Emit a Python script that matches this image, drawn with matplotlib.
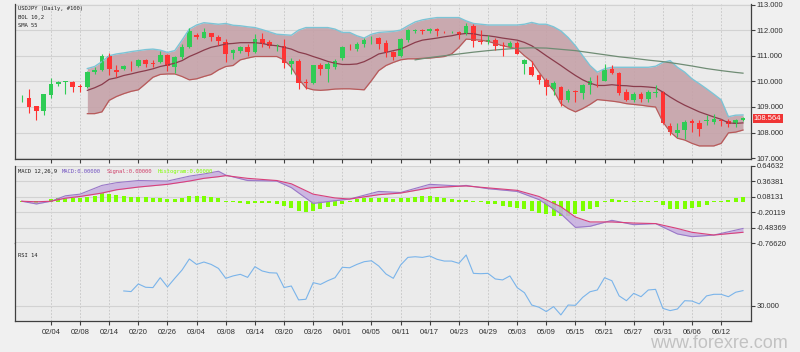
import numpy as np
import pandas as pd
import matplotlib
matplotlib.use("Agg")
import matplotlib.pyplot as plt
import matplotlib.transforms as mtransforms

# 100 daily bars, USDJPY
dates = pd.bdate_range("2019-01-29", "2019-06-17")

opens = [109.30, 109.36, 109.03, 108.85, 109.45, 109.88, 109.97, 109.97, 109.81, 109.78,
         110.36, 110.45, 111.00, 110.45, 110.49, 110.58, 110.59, 110.84, 110.70, 110.74,
         111.04, 110.55, 110.96, 111.35, 111.82, 111.71, 111.87, 111.75, 111.55, 111.11,
         111.17, 111.35, 111.13, 111.65, 111.52, 111.38, 111.39, 110.66, 110.81, 109.98,
         109.93, 110.62, 110.49, 110.58, 110.91, 111.36, 111.26, 111.46, 111.60, 111.69,
         111.48, 111.13, 111.00, 111.61, 111.95, 112.00, 111.97, 112.04, 111.94, 111.92,
         111.91, 111.84, 112.17, 111.59, 111.52, 111.62, 111.43, 111.35, 111.50, 110.68,
         110.58, 110.23, 110.06, 109.71, 109.78, 109.29, 109.63, 109.54, 109.84, 110.07,
         110.03, 110.49, 110.32, 109.58, 109.26, 109.49, 109.33, 109.56, 109.58, 108.25,
         107.99, 108.10, 108.45, 108.38, 108.46, 108.40, 108.50, 108.46, 108.33, 108.48]
highs = [109.45, 109.71, 109.05, 109.52, 110.14, 110.02, 110.02, 110.02, 109.90, 110.42,
         110.55, 111.06, 111.10, 110.62, 110.62, 110.78, 110.87, 110.88, 110.84, 111.20,
         111.06, 111.00, 111.46, 112.10, 111.87, 112.10, 111.90, 111.80, 111.65, 111.28,
         111.40, 111.45, 111.84, 111.87, 111.60, 111.47, 111.65, 110.90, 110.87, 110.10,
         110.64, 110.70, 110.75, 110.87, 111.40, 111.45, 111.55, 111.68, 111.78, 111.72,
         111.60, 111.20, 111.68, 112.05, 112.05, 112.05, 112.08, 112.08, 111.95, 111.97,
         111.97, 112.29, 112.25, 112.00, 111.80, 111.68, 111.55, 111.57, 111.57, 110.88,
         110.81, 110.28, 110.12, 110.00, 109.83, 109.70, 109.68, 109.90, 110.16, 110.23,
         110.68, 110.62, 110.38, 109.70, 109.58, 109.58, 109.65, 109.87, 109.62, 108.36,
         108.36, 108.48, 108.55, 108.50, 108.70, 108.74, 108.55, 108.52, 108.55, 108.60]
lows = [109.20, 108.77, 108.48, 108.70, 109.36, 109.80, 109.50, 109.58, 109.60, 109.75,
        110.30, 110.40, 110.23, 110.19, 110.45, 110.42, 110.55, 110.55, 110.55, 110.70,
        110.40, 110.32, 110.87, 111.30, 111.65, 111.68, 111.59, 111.43, 110.74, 110.87,
        111.10, 110.98, 111.10, 111.33, 111.30, 111.20, 110.53, 110.30, 109.71, 109.70,
        109.90, 110.23, 109.97, 110.50, 110.85, 111.22, 111.20, 111.33, 111.45, 111.26,
        110.94, 110.84, 110.96, 111.55, 111.90, 111.86, 111.90, 111.78, 111.90, 111.87,
        111.65, 111.80, 111.35, 111.46, 111.45, 111.22, 111.00, 111.30, 111.05, 110.27,
        110.20, 109.88, 109.45, 109.45, 109.03, 109.20, 109.20, 109.33, 109.49, 109.78,
        110.00, 110.28, 109.45, 109.24, 109.20, 109.20, 109.20, 109.40, 108.33, 107.90,
        107.84, 107.77, 108.03, 107.86, 108.30, 108.35, 108.25, 108.22, 108.20, 108.45]
closes = [109.33, 109.00, 108.85, 109.49, 109.88, 109.97, 110.00, 109.78, 109.79, 110.36,
          110.46, 111.00, 110.49, 110.36, 110.59, 110.56, 110.84, 110.66, 110.66, 111.04,
          110.59, 110.96, 111.35, 111.95, 111.72, 111.91, 111.75, 111.56, 111.07, 111.22,
          111.33, 111.13, 111.65, 111.46, 111.40, 111.41, 110.71, 110.81, 109.93, 109.94,
          110.62, 110.49, 110.66, 110.81, 111.33, 111.33, 111.47, 111.62, 111.63, 111.46,
          111.13, 110.96, 111.65, 112.00, 112.00, 111.97, 112.04, 111.95, 111.92, 111.94,
          111.82, 112.17, 111.56, 111.52, 111.61, 111.39, 111.40, 111.50, 111.07, 110.85,
          110.23, 110.06, 109.78, 109.93, 109.26, 109.61, 109.60, 109.84, 110.00, 110.05,
          110.45, 110.32, 109.54, 109.26, 109.52, 109.33, 109.58, 109.60, 108.36, 108.03,
          108.12, 108.42, 108.36, 108.16, 108.49, 108.53, 108.47, 108.33, 108.51, 108.564]

# Bollinger (10, 2), from bar 9 on
bol_upper = [110.50, 110.58, 110.77, 111.00, 111.07, 111.11, 111.16, 111.20, 111.24, 111.26,
             111.22, 111.13, 111.20, 111.61, 112.04, 112.20, 112.29, 112.26, 112.23, 112.26,
             112.19, 112.17, 112.13, 112.10, 112.02, 111.93, 111.84, 111.82, 111.80, 112.00,
             112.10, 112.10, 112.10, 112.10, 112.04, 111.91, 111.91, 111.78, 111.69, 111.84,
             111.91, 111.93, 111.95, 112.00, 112.17, 112.32, 112.40, 112.45, 112.49, 112.49,
             112.49, 112.49, 112.36, 112.26, 112.23, 112.20, 112.20, 112.20, 112.20, 112.20,
             112.23, 112.30, 112.23, 112.23, 112.13, 111.97, 111.71, 111.39, 111.00, 110.62,
             110.36, 110.49, 110.55, 110.55, 110.55, 110.55, 110.55, 110.55, 110.59, 110.74,
             110.81, 110.55, 110.36, 110.10, 109.91, 109.71, 109.50, 109.28, 108.62, 108.68,
             108.69]
bol_mid = [109.65, 109.75, 109.88, 110.08, 110.14, 110.23, 110.29, 110.36, 110.42, 110.49,
           110.58, 110.64, 110.71, 110.81, 110.97, 111.09, 111.22, 111.33, 111.39, 111.46,
           111.48, 111.51, 111.51, 111.51, 111.48, 111.42, 111.39, 111.33, 111.26, 111.14,
           111.07, 110.97, 110.88, 110.78, 110.71, 110.66, 110.66, 110.68, 110.77, 110.91,
           111.07, 111.13, 111.20, 111.26, 111.39, 111.52, 111.61, 111.65, 111.69, 111.74,
           111.78, 111.84, 111.87, 111.86, 111.80, 111.78, 111.74, 111.69, 111.65, 111.61,
           111.52, 111.39, 111.20, 111.00, 110.81, 110.62, 110.42, 110.23, 110.06, 109.93,
           109.84, 109.84, 109.87, 109.84, 109.83, 109.80, 109.80, 109.78, 109.75, 109.58,
           109.39, 109.22, 109.07, 108.94, 108.81, 108.71, 108.61, 108.52, 108.38, 108.36,
           108.38]
bol_lower = [108.74, 108.74, 108.81, 109.26, 109.41, 109.52, 109.61, 109.67, 109.91, 110.16,
             110.27, 110.29, 110.29, 110.19, 110.06, 110.10, 110.19, 110.27, 110.45, 110.58,
             110.62, 110.84, 110.91, 110.97, 110.97, 110.97, 110.97, 110.84, 110.55, 110.10,
             109.75, 109.67, 109.65, 109.67, 109.70, 109.71, 109.71, 109.69, 109.67, 110.03,
             110.42, 110.62, 110.74, 110.84, 110.88, 110.88, 110.90, 110.91, 110.94, 110.97,
             111.07, 111.33, 111.65, 111.63, 111.61, 111.56, 111.48, 111.39, 111.33, 111.26,
             111.00, 110.78, 110.36, 109.97, 109.65, 109.13, 108.94, 108.81, 108.94, 109.10,
             109.29, 109.26, 109.23, 109.19, 109.13, 109.10, 109.07, 109.03, 109.00, 108.42,
             108.03, 107.78, 107.71, 107.58, 107.48, 107.48, 107.48, 107.58, 107.99, 108.02,
             108.10]

# SMA 55
sma_bar = [54, 56, 58, 60, 62, 64, 66, 68, 70, 72, 74, 76, 78, 80, 82, 84, 86, 88, 90, 92, 94, 96, 98, 99]
sma_val = [110.84, 110.93, 111.00, 111.07, 111.14, 111.20, 111.25, 111.29, 111.31, 111.30, 111.25, 111.20,
           111.12, 111.04, 110.96, 110.90, 110.83, 110.77, 110.69, 110.60, 110.50, 110.42, 110.35, 110.32]

# MACD 12,26,9
macd_bar = [0, 2, 4, 6, 8, 11, 13, 16, 20, 23, 25, 27, 28, 31, 35, 37, 40, 43, 45, 49, 52, 56, 60,
            61, 64, 68, 71, 74, 76, 78, 81, 84, 87, 90, 92, 95, 99]
macd_val = [0.0, -0.05, 0.0, 0.10, 0.13, 0.29, 0.34, 0.38, 0.37, 0.46, 0.50, 0.55, 0.48, 0.38, 0.37,
            0.25, -0.04, 0.01, 0.04, 0.18, 0.16, 0.31, 0.28, 0.29, 0.23, 0.18, 0.03, -0.23, -0.48,
            -0.46, -0.35, -0.43, -0.41, -0.60, -0.65, -0.62, -0.50]
signal_val = [0.0, -0.01, 0.0, 0.056, 0.087, 0.15, 0.21, 0.26, 0.31, 0.37, 0.42, 0.45, 0.47, 0.42, 0.38,
              0.32, 0.13, 0.06, 0.04, 0.12, 0.15, 0.245, 0.275, 0.28, 0.245, 0.20, 0.087, -0.10, -0.29,
              -0.38, -0.38, -0.40, -0.41, -0.50, -0.57, -0.62, -0.57]
hist_val = [0.0, -0.02, -0.03, -0.01, 0.02, 0.04, 0.05, 0.05, 0.05, 0.07,
            0.09, 0.14, 0.12, 0.10, 0.08, 0.07, 0.07, 0.06, 0.05, 0.04,
            0.03, 0.03, 0.05, 0.08, 0.09, 0.08, 0.06, 0.04, 0.0, -0.01,
            -0.02, -0.03, -0.02, -0.02, -0.02, -0.03, -0.07, -0.11, -0.16, -0.19,
            -0.17, -0.13, -0.10, -0.07, -0.03, 0.0, 0.02, 0.04, 0.05, 0.05,
            0.04, 0.03, 0.05, 0.05, 0.063, 0.08, 0.088, 0.063, 0.038, 0.019,
            0.005, 0.01, 0.0, -0.01, -0.03, -0.04, -0.075, -0.088, -0.107, -0.138,
            -0.17, -0.21, -0.23, -0.25, -0.26, -0.25, -0.23, -0.17, -0.125, -0.088,
            0.0, 0.02, 0.01, 0.0, -0.01, -0.01, -0.01, -0.01, -0.063, -0.125,
            -0.138, -0.125, -0.107, -0.088, -0.063, -0.01, 0.0, 0.01, 0.038, 0.063]
macd_ticks = [0.64632, 0.36381, 0.08131, -0.20119, -0.48369, -0.76620]

# RSI 14, from bar 14 on
rsi_val = [39.4, 39.0, 43.8, 41.7, 41.5, 47.7, 41.9, 47.3, 52.5, 59.4,
           56.0, 57.5, 56.0, 53.5, 47.3, 48.8, 49.8, 47.9, 54.6, 51.9,
           50.8, 50.6, 41.5, 42.5, 33.8, 34.2, 44.6, 43.5, 45.8, 47.7,
           54.2, 53.9, 56.0, 57.7, 58.3, 55.0, 50.0, 47.3, 55.6, 60.4,
           60.8, 60.4, 61.3, 59.2, 58.1, 58.1, 56.7, 61.9, 50.4, 50.2,
           50.4, 46.9, 46.3, 48.8, 41.5, 38.3, 30.6, 29.2, 26.5, 29.6,
           24.4, 30.6, 30.4, 35.4, 38.9, 40.0, 47.7, 45.8, 36.3, 33.3,
           37.9, 35.8, 40.0, 40.4, 28.5, 27.1, 28.1, 33.3, 33.1, 31.3,
           36.3, 37.3, 37.3, 35.8, 38.6, 39.6]

bars = np.arange(len(closes))
o = np.array(opens); c = np.array(closes)
tick_pos = bars[4::4]
tick_lab = [d.strftime("%m/%d") for d in dates[4::4]]

plt.rcParams["font.family"] = ["Liberation Sans", "DejaVu Sans"]
fig = plt.figure(figsize=(8, 3.52), dpi=100, facecolor="#f0f0f0")
ax1 = fig.add_axes([15/800, 1-159/352, 736/800, 155/352])
ax2 = fig.add_axes([15/800, 1-243/352, 736/800, 77/352])
ax3 = fig.add_axes([15/800, 1-321/352, 736/800, 78/352])

spine_col = "#404040"
for ax in (ax1, ax2, ax3):
    ax.set_facecolor("#ebebeb")
    ax.set_xlim(-0.93, 100.1)
    ax.spines["top"].set_visible(False)
    for s in ("left", "bottom", "right"):
        ax.spines[s].set_color(spine_col)
        ax.spines[s].set_linewidth(0.9)
    ax.yaxis.tick_right()
    ax.set_xticks(tick_pos)
    ax.tick_params(axis="both", direction="out", length=3, width=0.8, colors=spine_col,
                   labelsize=5.5, labelcolor="#303030", pad=1)
    ax.grid(axis="x", color="#c4c4c4", linestyle=(0, (2, 2)), linewidth=0.6)
    ax.grid(axis="y", color="#d2d2d2", linestyle="-", linewidth=0.8)
    ax.set_axisbelow(True)
ax1.set_xticklabels([])
ax2.set_xticklabels([])
ax3.set_xticklabels(tick_lab)
ax3.tick_params(axis="x", pad=3)

mono = ["DejaVu Sans Mono"]
lab_fs = 4.0

# price panel
band_bars = bars[9:]
ax1.fill_between(band_bars, bol_lower, bol_upper, color="#c5a0a7", alpha=0.88, linewidth=0)
ax1.plot(band_bars, bol_upper, color="#7cc4d6", linewidth=1.0)
ax1.plot(band_bars, bol_lower, color="#b85a5a", linewidth=0.9)
ax1.plot(band_bars, bol_mid, color="#8a3c4c", linewidth=0.9)
ax1.plot(sma_bar, sma_val, color="#6f8c74", linewidth=0.9)

col = np.where(c >= o, "#2fcc55", "#ff3333")
ax1.vlines(bars, lows, highs, colors=col, linewidth=0.8)
ax1.bar(bars, np.maximum(np.abs(c - o), 0.02), bottom=np.minimum(o, c), width=0.64, color=col)

ax1.set_ylim(106.97, 113.02)
ax1.set_yticks(np.arange(107, 114))
ax1.set_yticklabels([f"{v:.3f}" for v in np.arange(107, 114)])
trans = mtransforms.blended_transform_factory(ax1.transAxes, ax1.transData)
ax1.text(1.004, closes[-1], f"{closes[-1]:.3f}", transform=trans, ha="left", va="center",
         fontsize=5.5, color="white",
         bbox=dict(boxstyle="square,pad=0.15", facecolor="#f03535", edgecolor="none"))
for y, txt in [(0.968, "USDJPY (Daily, #100)"), (0.915, "BOL 10,2"), (0.863, "SMA 55")]:
    ax1.text(0.004, y, txt, transform=ax1.transAxes, fontsize=lab_fs, family=mono,
             va="center", color="#202020")

# MACD panel
h = np.array(hist_val)
ax2.bar(bars, np.abs(h) + 0.026, bottom=np.minimum(h, 0) - 0.013, width=0.55, color="#7cff00")
ax2.fill_between(macd_bar, macd_val, signal_val, color="#c7aee0", alpha=0.85, linewidth=0)
ax2.plot(macd_bar, macd_val, color="#9a78c8", linewidth=0.8)
ax2.plot(macd_bar, signal_val, color="#d8407a", linewidth=0.8)
ax2.set_ylim(macd_ticks[-1], macd_ticks[0])
ax2.set_yticks(macd_ticks)
ax2.set_yticklabels([f"{v:.5f}" for v in macd_ticks])
for x, txt, cl in [(0.004, "MACD 12,26,9", "#202020"), (0.064, "MACD:0.00000", "#7050c0"),
                   (0.125, "Signal:0.00000", "#d0406a"), (0.194, "Histogram:0.00000", "#80ff00")]:
    ax2.text(x, 0.935, txt, transform=ax2.transAxes, fontsize=lab_fs, family=mono,
             va="center", color=cl)

# RSI panel
ax3.plot(bars[14:], rsi_val, color="#7ab4ea", linewidth=0.8)
ax3.set_ylim(20.6, 69.4)
ax3.set_yticks([30])
ax3.set_yticklabels(["30.000"])
ax3.text(0.004, 0.846, "RSI 14", transform=ax3.transAxes, fontsize=lab_fs, family=mono,
         va="center", color="#202020")

fig.text(0.985, 0.012, "www.forexre.com", ha="right", va="baseline", fontsize=13, color="#c2c2c2")

fig.savefig("out.png", dpi=100, facecolor=fig.get_facecolor())
